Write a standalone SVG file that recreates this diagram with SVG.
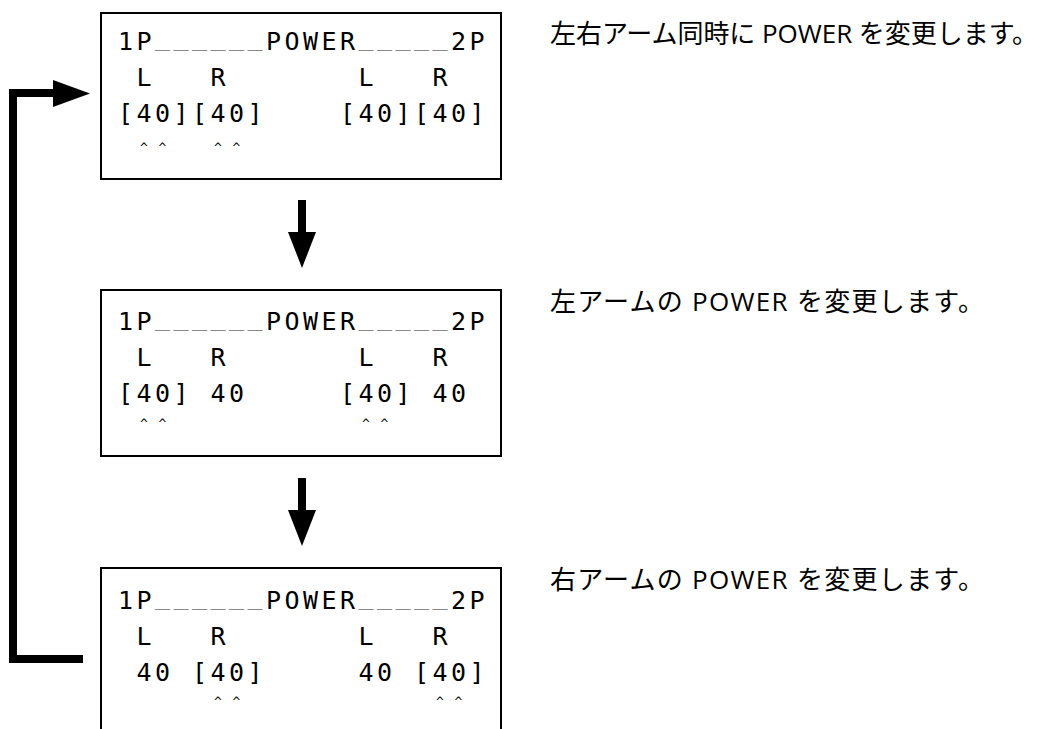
<svg xmlns="http://www.w3.org/2000/svg" width="1037" height="729" viewBox="0 0 1037 729">
<style>
.box{fill:#fff;stroke:#000;stroke-width:2}
.mono{font-family:"DejaVu Sans Mono","Liberation Mono",monospace;font-size:25px;letter-spacing:3.45px;fill:#000;white-space:pre}
.us{fill:#888}
.caret{font-family:"DejaVu Sans Mono",monospace;font-size:13px;fill:#000;text-anchor:middle}
.note{font-family:"Open Sans","Noto Sans CJK JP",sans-serif;font-size:26px;fill:#000}
.conn{fill:none;stroke:#000;stroke-width:8;stroke-linejoin:miter}
</style>
<g id="connectors">
<path class="conn" d="M83,659 H13 V93 H56"/>
<polygon points="53,80 90,93.5 53,107"/>
<rect x="298" y="200" width="8" height="34"/>
<polygon points="288,232 316,232 302,268"/>
<rect x="298" y="478" width="8" height="34"/>
<polygon points="288,510 316,510 302,546"/>
</g>
<g id="node1">
<rect class="box" x="101" y="13" width="400" height="166"/>
<text class="mono" x="118" y="50" xml:space="preserve">1P<tspan class="us" dy="-5">______</tspan><tspan dy="5">POWER</tspan><tspan class="us" dy="-5">_____</tspan><tspan dy="5">2P</tspan></text>
<text class="mono" x="118" y="86" xml:space="preserve"> L   R       L   R</text>
<text class="mono" x="118" y="122" xml:space="preserve">[40][40]    [40][40]</text>
<text class="caret" x="144 162.5 218 236.5" y="152">^^^^</text>
</g>
<g id="node2">
<rect class="box" x="101" y="290" width="400" height="166"/>
<text class="mono" x="118" y="330" xml:space="preserve">1P<tspan class="us" dy="-5">______</tspan><tspan dy="5">POWER</tspan><tspan class="us" dy="-5">_____</tspan><tspan dy="5">2P</tspan></text>
<text class="mono" x="118" y="366" xml:space="preserve"> L   R       L   R</text>
<text class="mono" x="118" y="402" xml:space="preserve">[40] 40     [40] 40</text>
<text class="caret" x="144 162.5 366 384.5" y="428">^^^^</text>
</g>
<g id="node3">
<rect class="box" x="101" y="568" width="400" height="180"/>
<text class="mono" x="118" y="609" xml:space="preserve">1P<tspan class="us" dy="-5">______</tspan><tspan dy="5">POWER</tspan><tspan class="us" dy="-5">_____</tspan><tspan dy="5">2P</tspan></text>
<text class="mono" x="118" y="645" xml:space="preserve"> L   R       L   R</text>
<text class="mono" x="118" y="681" xml:space="preserve"> 40 [40]     40 [40]</text>
<text class="caret" x="218 236.5 440 458.5" y="706">^^^^</text>
</g>
<g id="note1"><text class="note" x="550" y="43" textLength="488" lengthAdjust="spacing">左右アーム同時に POWER を変更します。</text></g>
<g id="note2"><text class="note" x="550" y="311" textLength="434" lengthAdjust="spacing">左アームの POWER を変更します。</text></g>
<g id="note3"><text class="note" x="550" y="589" textLength="434" lengthAdjust="spacing">右アームの POWER を変更します。</text></g>
</svg>
